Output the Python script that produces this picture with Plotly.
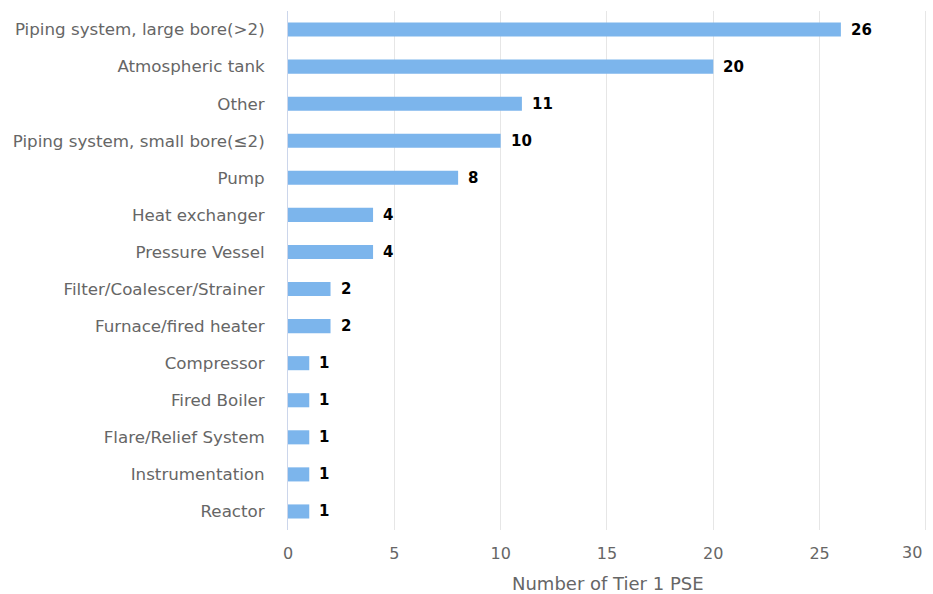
import plotly.graph_objects as go

categories = [
    "Piping system, large bore(>2)",
    "Atmospheric tank",
    "Other",
    "Piping system, small bore(≤2)",
    "Pump",
    "Heat exchanger",
    "Pressure Vessel",
    "Filter/Coalescer/Strainer",
    "Furnace/fired heater",
    "Compressor",
    "Fired Boiler",
    "Flare/Relief System",
    "Instrumentation",
    "Reactor",
]
values = [26, 20, 11, 10, 8, 4, 4, 2, 2, 1, 1, 1, 1, 1]
x_ticks = [0, 5, 10, 15, 20, 25, 30]
x_title = "Number of Tier 1 PSE"

FONT = "DejaVu Sans"
GREY = "#666666"

# the last tick label is drawn separately, pulled inside the chart edge
tick_text = [str(t) for t in x_ticks]
tick_text[-1] = ""

fig = go.Figure(
    go.Bar(
        x=values,
        y=categories,
        orientation="h",
        marker=dict(color="#7cb5ec", line=dict(width=0)),
        hoverinfo="x+y",
    )
)

# value labels just past the end of each bar
for cat, val in zip(categories, values):
    fig.add_annotation(
        x=val,
        y=cat,
        text=f"<b>{val}</b>",
        xanchor="left",
        yanchor="middle",
        xshift=8,
        showarrow=False,
        font=dict(family=FONT, size=15, color="#000000"),
    )

# right-most tick label, right-aligned to the plot edge
fig.add_annotation(
    x=x_ticks[-1],
    y=0,
    xref="x",
    yref="paper",
    text=str(x_ticks[-1]),
    xanchor="right",
    yanchor="middle",
    xshift=-2,
    yshift=-22,
    showarrow=False,
    font=dict(family=FONT, size=16, color=GREY),
)

# x-axis title, centred under the plot area
fig.add_annotation(
    x=0.5,
    y=0,
    xref="paper",
    yref="paper",
    text=x_title,
    xanchor="center",
    yanchor="middle",
    yshift=-53,
    showarrow=False,
    font=dict(family=FONT, size=18, color=GREY),
)

fig.update_layout(
    width=933,
    height=594,
    margin=dict(l=288, r=6, t=11, b=64),
    paper_bgcolor="#ffffff",
    plot_bgcolor="#ffffff",
    bargap=0.62,
    showlegend=False,
    font=dict(family=FONT, color=GREY),
)

fig.update_xaxes(
    # a hair past 30 so the last grid line is still drawn
    range=[0, 30.05],
    tickvals=x_ticks,
    ticktext=tick_text,
    showgrid=True,
    gridcolor="#e6e6e6",
    gridwidth=1,
    zeroline=False,
    showline=False,
    ticks="",
    automargin=False,
    tickfont=dict(family=FONT, size=16, color=GREY),
    ticklabelstandoff=12,
)

fig.update_yaxes(
    autorange="reversed",
    categoryorder="array",
    categoryarray=categories,
    showline=True,
    linecolor="#ccd6eb",
    linewidth=1,
    showgrid=False,
    ticks="",
    ticklabelstandoff=19,
    tickfont=dict(family=FONT, size=16.7, color=GREY),
)

fig.write_html("out.html")
